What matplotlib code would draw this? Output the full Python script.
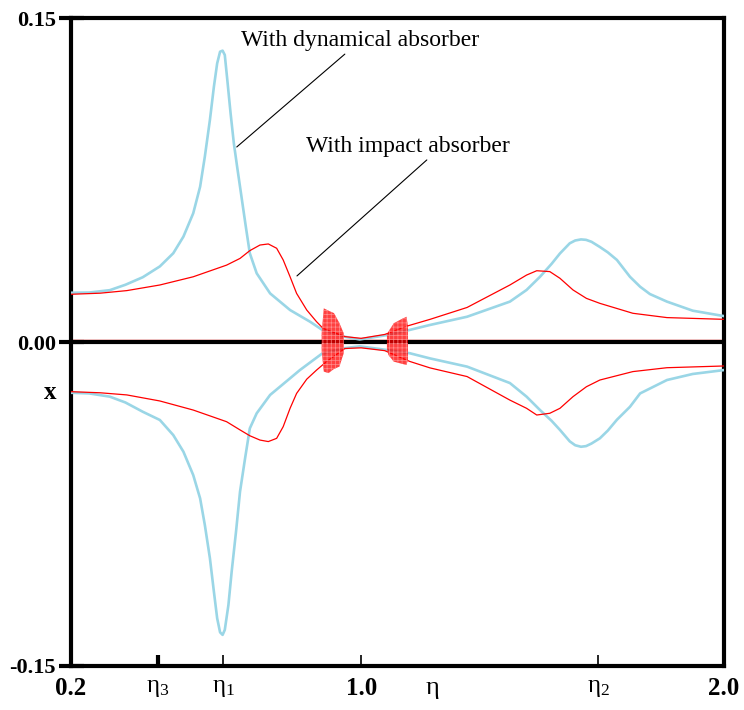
import numpy as np
import matplotlib.pyplot as plt

plt.rcParams['font.family'] = ['Liberation Serif', 'DejaVu Serif']
plt.rcParams['mathtext.fontset'] = 'custom'
plt.rcParams['mathtext.rm'] = 'Liberation Serif'
plt.rcParams['mathtext.it'] = 'Liberation Serif'
plt.rcParams['hatch.linewidth'] = 0.5

# curva con absorbedor dinamico (azul)
eta_din_sup = [0.2, 0.25, 0.307, 0.35, 0.398, 0.445, 0.482, 0.510, 0.537, 0.556, 0.569, 0.583, 0.594,
               0.603, 0.611, 0.618, 0.624, 0.631, 0.64, 0.649, 0.658, 0.670, 0.682, 0.693, 0.712,
               0.749, 0.804, 0.859, 0.891, 0.952, 0.996, 1.071, 1.134, 1.19, 1.292, 1.41, 1.456,
               1.493, 1.525, 1.548, 1.575, 1.59, 1.606, 1.62, 1.635, 1.658, 1.68, 1.705, 1.741, 1.769,
               1.796, 1.843, 1.914, 2.0]
x_din_sup = [0.0228, 0.0229, 0.024, 0.0265, 0.030, 0.035, 0.0411, 0.0488, 0.0596, 0.0719, 0.0858, 0.1028, 0.1182,
             0.129, 0.1344, 0.1349, 0.1329, 0.1213, 0.1059, 0.092, 0.0812, 0.0673, 0.0534, 0.0411, 0.0318,
             0.0225, 0.0148, 0.0094, 0.0058, 0.0025, 0.0012, 0.0032, 0.0056, 0.0079, 0.0117, 0.0187, 0.0241,
             0.0302, 0.0362, 0.041, 0.0457, 0.047, 0.0475, 0.0473, 0.0464, 0.044, 0.0415, 0.038, 0.0302, 0.0256,
             0.0222, 0.0187, 0.0145, 0.012]
eta_din_inf = [0.2, 0.25, 0.307, 0.35, 0.398, 0.445, 0.482, 0.510, 0.537, 0.556, 0.569, 0.583, 0.594,
               0.603, 0.611, 0.618, 0.624, 0.634, 0.643, 0.655, 0.666, 0.68, 0.693, 0.712,
               0.749, 0.804, 0.831, 0.859, 0.891, 0.952, 0.996, 1.071, 1.134, 1.19, 1.292, 1.41, 1.456,
               1.493, 1.525, 1.548, 1.575, 1.59, 1.606, 1.62, 1.635, 1.658, 1.68, 1.705, 1.741, 1.769,
               1.843, 1.914, 2.0]
x_din_inf = [-0.0235, -0.0238, -0.0253, -0.028, -0.0323, -0.0361, -0.0431, -0.0508, -0.0616, -0.0724, -0.0847,
             -0.1001, -0.1156, -0.1279, -0.1344, -0.1356, -0.1333, -0.1218, -0.1063, -0.0878, -0.0693, -0.0538,
             -0.040, -0.033, -0.0245, -0.0168, -0.013, -0.0095, -0.0055, -0.0029, -0.002, -0.0037, -0.0052,
             -0.0076, -0.0114, -0.019, -0.0253, -0.0315, -0.0365, -0.0407, -0.046, -0.0478, -0.0485, -0.0482,
             -0.047, -0.0446, -0.041, -0.036, -0.030, -0.0238, -0.0176, -0.0148, -0.013]

# curva con absorbedor de impacto (rojo)
eta_imp_sup = [0.2, 0.28, 0.354, 0.445, 0.537, 0.629, 0.666, 0.693, 0.721, 0.744, 0.767, 0.785, 0.804,
               0.822, 0.85, 0.877, 0.895, 0.955, 1.0, 1.065, 1.129, 1.19, 1.292, 1.41, 1.456, 1.484,
               1.52, 1.548, 1.584, 1.621, 1.658, 1.749, 1.843, 2.0]
x_imp_sup = [0.0221, 0.0226, 0.0238, 0.0264, 0.0302, 0.0356, 0.0387, 0.0423, 0.0449, 0.0454, 0.0434, 0.038, 0.0302,
             0.0225, 0.0148, 0.0094, 0.0063, 0.0025, 0.0017, 0.0035, 0.0075, 0.0105, 0.016, 0.0264, 0.031, 0.033,
             0.0326, 0.0295, 0.0241, 0.0202, 0.0179, 0.0133, 0.0113, 0.0105]
eta_imp_inf = [0.2, 0.28, 0.354, 0.445, 0.537, 0.629, 0.666, 0.693, 0.721, 0.744, 0.767, 0.785, 0.804,
               0.822, 0.85, 0.877, 0.905, 0.955, 1.0, 1.065, 1.134, 1.19, 1.292, 1.41, 1.456, 1.484,
               1.52, 1.548, 1.584, 1.621, 1.658, 1.749, 1.843, 2.0]
x_imp_inf = [-0.023, -0.0235, -0.0245, -0.0273, -0.0315, -0.0369, -0.0407, -0.0434, -0.0454, -0.0461, -0.0446,
             -0.0392, -0.0307, -0.0238, -0.0172, -0.013, -0.009, -0.003, -0.0027, -0.004, -0.009, -0.012, -0.016,
             -0.0269, -0.0307, -0.0338, -0.033, -0.0307, -0.0253, -0.0207, -0.0176, -0.0137, -0.0119, -0.0111]

# zonas caoticas
eta_caos1 = [0.891, 0.897, 0.91, 0.925, 0.94, 0.952]
caos1_sup = [0.004, 0.0156, 0.0145, 0.0134, 0.0088, 0.004]
caos1_inf = [-0.004, -0.0137, -0.0144, -0.0125, -0.0114, -0.0051]
eta_caos2 = [1.071, 1.075, 1.09, 1.11, 1.125, 1.129]
caos2_sup = [0.003, 0.0048, 0.0087, 0.0105, 0.0117, 0.0074]
caos2_inf = [-0.003, -0.006, -0.0091, -0.0100, -0.0106, -0.0083]

# ticks
XTICKS = [0.2, 0.44, 0.619, 1.0, 1.653, 2.0]
XTICKLABELS = ['0.2', r'$\eta_3$', r'$\eta_1$', '1.0', r'$\eta_2$', '2.0']
YTICKS = [-0.15, 0.0, 0.15]
YTICKLABELS = ['-0.15', '0.00', '0.15']

AZUL = '#9ad6e6'

fig = plt.figure(figsize=(7.44, 7.10), dpi=100)
ax = fig.add_axes([0.0954, 0.062, 0.8776, 0.9126])

ax.axhline(0.0007, color='red', lw=1.0, zorder=2)
ax.axhline(0.0, color='black', lw=3.0, zorder=3)

ax.plot(eta_din_sup, x_din_sup, color=AZUL, lw=1.9, zorder=4)
ax.plot(eta_din_inf, x_din_inf, color=AZUL, lw=1.9, zorder=4)
ax.plot(eta_imp_sup, x_imp_sup, color='red', lw=0.9, zorder=5)
ax.plot(eta_imp_inf, x_imp_inf, color='red', lw=0.9, zorder=5)

for eta_c, sup_c, inf_c in [(eta_caos1, caos1_sup, caos1_inf), (eta_caos2, caos2_sup, caos2_inf)]:
    ax.fill_between(eta_c, inf_c, sup_c, facecolor=(1, 0, 0, 0.75), edgecolor=(1, 0.55, 0.55),
                    hatch='++++', lw=0, zorder=6)

# etiquetas con lineas
ax.text(0.997, 0.1394, 'With dynamical absorber', fontsize=17, ha='center', va='center')
ax.annotate('', xy=(0.657, 0.0903), xytext=(0.955, 0.1333),
            arrowprops=dict(arrowstyle='-', color='black', lw=0.8, shrinkA=0, shrinkB=0))
ax.text(1.129, 0.0903, 'With impact absorber', fontsize=17, ha='center', va='center')
ax.annotate('', xy=(0.823, 0.0306), xytext=(1.181, 0.0843),
            arrowprops=dict(arrowstyle='-', color='black', lw=0.8, shrinkA=0, shrinkB=0))

ax.set_xlim(0.2, 2.0)
ax.set_ylim(-0.15, 0.15)
ax.set_xticks(XTICKS)
ax.set_xticklabels(XTICKLABELS, fontsize=18)
for lbl in ax.get_xticklabels():
    if '$' not in lbl.get_text():
        lbl.set_fontweight('bold')
ax.set_yticks(YTICKS)
ax.set_yticklabels(YTICKLABELS, fontsize=16, fontweight='bold')
ax.tick_params(axis='x', direction='in', length=8, width=1.2, pad=8)
ax.tick_params(axis='y', direction='inout', length=18, width=3, pad=2)
ax.get_xticklines()[2].set_markeredgewidth(3)

for s in ax.spines.values():
    s.set_linewidth(3)

ax.text(1.195, -0.161, r'$\eta$', fontsize=19, ha='center', va='center')
ax.text(-0.022, -0.0235, 'x', fontsize=18, fontweight='bold', ha='right', va='center',
        transform=ax.get_yaxis_transform())

fig.savefig('out.png', dpi=100)
